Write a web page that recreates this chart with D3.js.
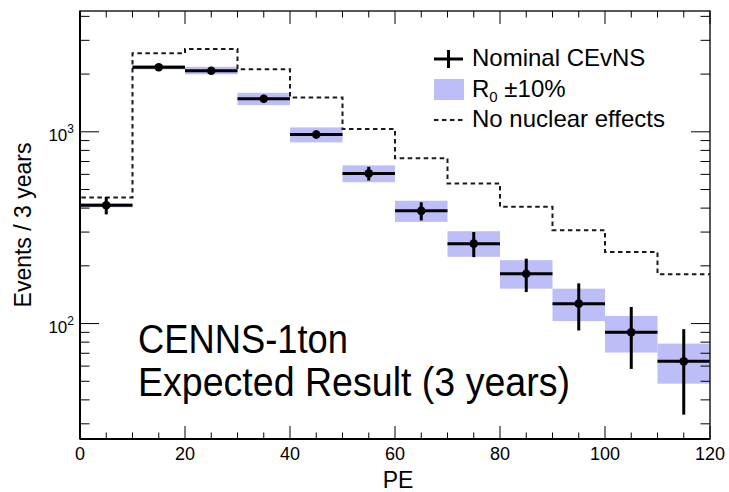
<!DOCTYPE html>
<html>
<head>
<meta charset="utf-8">
<script src="https://cdn.jsdelivr.net/npm/d3@7"></script>
<style>
  html, body { margin: 0; padding: 0; background: #fff; }
  svg { display: block; }
  text { font-family: "Liberation Sans", Arial, Helvetica, sans-serif; fill: #000; }
</style>
</head>
<body>
<script>
// ---------------- data ----------------
const binLow      = [0, 10, 20, 30, 40, 50, 60, 70, 80, 90, 100, 110];
const binWidth    = 10;
const nominal     = [414, 2170, 2080, 1486, 969, 607, 387, 261, 182, 127, 90, 63.5];
const nominalErr  = [43, 50, 50, 50, 45, 50, 42, 39, 36, 35, 32, 30];
const bandLow     = [404, 2117, 1994, 1378, 881, 546, 339, 223, 152, 103, 70.6, 48.6];
const bandHigh    = [424, 2230, 2183, 1597, 1054, 668, 437, 303, 214, 152, 109.6, 78.6];
const noNuclear   = [455, 2565, 2702, 2117, 1512, 1033, 727, 538, 406, 307, 236, 181];
const xTicks      = [0, 20, 40, 60, 80, 100, 120];
const xMinorTicks = d3.range(0, 121, 5);
const yMajorTicks = [100, 1000];
const yMinorTicks = [30, 40, 50, 60, 70, 80, 90, 200, 300, 400, 500, 600, 700, 800, 900, 2000, 3000, 4000];
const legendLabels = ["Nominal CEvNS", "R", "No nuclear effects"];
const annotation  = ["CENNS-1ton", "Expected Result (3 years)"];

// ---------------- layout ----------------
const W = 729, H = 492;
const L = 80, R = 710, T = 11, B = 439;
const bandColor = "#bdbdf8";

const x = d3.scaleLinear().domain([0, 120]).range([L, R]);
const y = d3.scaleLog().domain([25.0, 4266]).range([B, T]);

const svg = d3.select("body").append("svg").attr("width", W).attr("height", H);

svg.append("clipPath").attr("id", "plotclip")
  .append("rect").attr("x", L).attr("y", T).attr("width", R - L).attr("height", B - T);

const g = svg.append("g").attr("clip-path", "url(#plotclip)");

// bands
g.selectAll("rect.band").data(binLow).enter().append("rect")
  .attr("class", "band")
  .attr("x", d => x(d))
  .attr("width", d => x(d + binWidth) - x(d))
  .attr("y", (d, i) => y(bandHigh[i]))
  .attr("height", (d, i) => y(bandLow[i]) - y(bandHigh[i]))
  .attr("fill", bandColor);

// dashed histogram (no nuclear effects)
const pts = [[x(0), y.range()[0] + 5]];
binLow.forEach((d, i) => {
  pts.push([x(d), y(noNuclear[i])]);
  pts.push([x(d + binWidth), y(noNuclear[i])]);
});
g.append("path")
  .attr("d", d3.line()(pts))
  .attr("fill", "none")
  .attr("stroke", "#1a1a1a")
  .attr("stroke-width", 2)
  .attr("stroke-dasharray", "4.5,3.5");

// error bars
g.selectAll("line.h").data(binLow).enter().append("line")
  .attr("x1", d => x(d)).attr("x2", d => x(d + binWidth))
  .attr("y1", (d, i) => y(nominal[i])).attr("y2", (d, i) => y(nominal[i]))
  .attr("stroke", "#000").attr("stroke-width", 3);
g.selectAll("line.v").data(binLow).enter().append("line")
  .attr("x1", d => x(d + binWidth / 2)).attr("x2", d => x(d + binWidth / 2))
  .attr("y1", (d, i) => y(nominal[i] + nominalErr[i]))
  .attr("y2", (d, i) => y(Math.max(nominal[i] - nominalErr[i], 1)))
  .attr("stroke", "#000").attr("stroke-width", 3);
g.selectAll("circle").data(binLow).enter().append("circle")
  .attr("cx", d => x(d + binWidth / 2))
  .attr("cy", (d, i) => y(nominal[i]))
  .attr("r", 4.3).attr("fill", "#000");

// frame
svg.append("rect").attr("x", L).attr("y", T).attr("width", R - L).attr("height", B - T)
  .attr("fill", "none").attr("stroke", "#222").attr("stroke-width", 1.5);
svg.append("line").attr("x1", L).attr("x2", L).attr("y1", T).attr("y2", B)
  .attr("stroke", "#000").attr("stroke-width", 2);
svg.append("line").attr("x1", L).attr("x2", R).attr("y1", B).attr("y2", B)
  .attr("stroke", "#000").attr("stroke-width", 2);

// ticks
const tk = svg.append("g").attr("stroke", "#000").attr("stroke-width", 1);
xMinorTicks.forEach(v => {
  const len = xTicks.includes(v) ? 13 : 6.5;
  tk.append("line").attr("x1", x(v)).attr("x2", x(v)).attr("y1", B).attr("y2", B - len);
  tk.append("line").attr("x1", x(v)).attr("x2", x(v)).attr("y1", T).attr("y2", T + len);
});
yMajorTicks.concat(yMinorTicks).forEach(v => {
  const len = yMajorTicks.includes(v) ? 19 : 9.5;
  tk.append("line").attr("x1", L).attr("x2", L + len).attr("y1", y(v)).attr("y2", y(v));
  tk.append("line").attr("x1", R).attr("x2", R - len).attr("y1", y(v)).attr("y2", y(v));
});

// x tick labels
svg.selectAll("text.xl").data(xTicks).enter().append("text")
  .attr("x", d => x(d)).attr("y", 460)
  .attr("text-anchor", "middle").attr("font-size", 18)
  .text(d => d);

// y tick labels 10^n
yMajorTicks.forEach(v => {
  const t = svg.append("text").attr("x", 74).attr("y", y(v) + 9)
    .attr("text-anchor", "end").attr("font-size", 17);
  t.append("tspan").text("10");
  t.append("tspan").attr("font-size", 12).attr("dy", -8).text(Math.round(Math.log10(v)));
});

// axis titles
svg.append("text").attr("x", 398).attr("y", 488)
  .attr("text-anchor", "middle").attr("font-size", 23).text("PE");
svg.append("text")
  .attr("transform", `translate(31,${(T + B) / 2}) rotate(-90)`)
  .attr("text-anchor", "middle").attr("font-size", 23).text("Events / 3 years");

// legend
const lg = svg.append("g");
const lx = 434, lw = 29, tx = 472;
const rowC = [59, 89.5, 120];
lg.append("line").attr("x1", lx).attr("x2", lx + lw).attr("y1", rowC[0]).attr("y2", rowC[0])
  .attr("stroke", "#000").attr("stroke-width", 3);
lg.append("line").attr("x1", lx + lw / 2).attr("x2", lx + lw / 2).attr("y1", rowC[0] - 9).attr("y2", rowC[0] + 9)
  .attr("stroke", "#000").attr("stroke-width", 3);
lg.append("rect").attr("x", lx).attr("y", rowC[1] - 10.5).attr("width", 30).attr("height", 21)
  .attr("fill", bandColor);
lg.append("line").attr("x1", lx).attr("x2", lx + lw).attr("y1", rowC[2]).attr("y2", rowC[2])
  .attr("stroke", "#1a1a1a").attr("stroke-width", 2).attr("stroke-dasharray", "4.5,3.5");

lg.append("text").attr("x", tx).attr("y", rowC[0] + 7).attr("font-size", 24).text(legendLabels[0]);
const t2 = lg.append("text").attr("x", tx).attr("y", rowC[1] + 7).attr("font-size", 24);
t2.append("tspan").text(legendLabels[1]);
t2.append("tspan").attr("font-size", 15).attr("dy", 5).text("0");
t2.append("tspan").attr("dy", -5).text(" \u00B110%");
lg.append("text").attr("x", tx).attr("y", rowC[2] + 7).attr("font-size", 24).text(legendLabels[2]);

// annotation
svg.append("text").attr("x", 138).attr("y", 353)
  .attr("font-family", "Lato, 'Open Sans', sans-serif").attr("font-size", 40)
  .attr("textLength", 210).attr("lengthAdjust", "spacingAndGlyphs")
  .text(annotation[0]);
svg.append("text").attr("x", 138).attr("y", 396)
  .attr("font-family", "Lato, 'Open Sans', sans-serif").attr("font-size", 40)
  .attr("textLength", 432).attr("lengthAdjust", "spacingAndGlyphs")
  .text(annotation[1]);
</script>
</body>
</html>
